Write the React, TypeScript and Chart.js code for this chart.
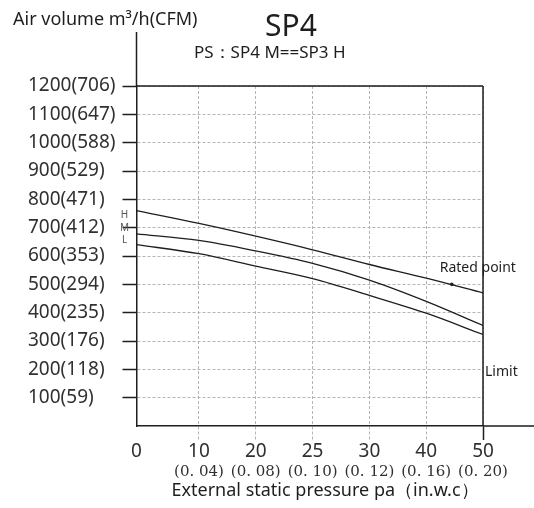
import React, { useEffect, useRef } from "react";
import { Chart, registerables } from "chart.js";

Chart.register(...registerables);

// ---- data ----
const pressureTicks = [0, 10, 20, 25, 30, 40, 50]; // Pa
const inwcLabels = ["", "(0. 04)", "(0. 08)", "(0. 10)", "(0. 12)", "(0. 16)", "(0. 20)"];
const highSpeed = [760, 715, 670, 622, 570, 522, 470];
const midSpeed = [678, 655, 618, 574, 515, 440, 355];
const lowSpeed = [640, 608, 564, 520, 461, 398, 323];
const airVolumeTicks = [100, 200, 300, 400, 500, 600, 700, 800, 900, 1000, 1100, 1200];
const cfmTicks = [59, 118, 176, 235, 294, 353, 412, 471, 529, 588, 647, 706];
const speedNames = ["H", "M", "L"];
const ratedPressure = 44.5;
const ratedAirVolume = 500;
const limitAirVolume = 190;

const X_MIN = -0.1;
const X_MAX = pressureTicks.length - 1;
const pos = (i: number) => (i === 0 ? X_MIN : i);
const pressureToPos = (p: number) => {
  for (let i = 0; i < pressureTicks.length - 1; i++) {
    const a = pressureTicks[i], b = pressureTicks[i + 1];
    if (p >= a && p <= b) return pos(i) + ((p - a) / (b - a)) * (pos(i + 1) - pos(i));
  }
  return X_MAX;
};

const FONT = "'Noto Sans', 'DejaVu Sans', sans-serif";
const SERIF = "'DejaVu Serif', 'Liberation Serif', serif";
const INK = "#1e1e1e";
const LABEL = "#303030";
const GRID = "#b4b4b4";

const toPoints = (arr: number[]) => arr.map((v, i) => ({ x: pos(i), y: v }));

const decorPlugin = {
  id: "decor",
  afterDraw(chart: any) {
    const { ctx, chartArea, scales } = chart;
    const { left, right, top, bottom } = chartArea;
    const xs = scales.x, ys = scales.y;
    ctx.save();
    ctx.strokeStyle = INK;
    ctx.lineWidth = 1.5;
    ctx.setLineDash([]);
    ctx.beginPath();
    ctx.moveTo(left, top);
    ctx.lineTo(right, top);
    ctx.moveTo(right, top);
    ctx.lineTo(right, bottom);
    ctx.moveTo(left, top);
    ctx.lineTo(left, 32);
    ctx.moveTo(right, bottom);
    ctx.lineTo(chart.width, bottom);
    ctx.stroke();

    ctx.fillStyle = INK;
    ctx.textBaseline = "middle";
    ctx.textAlign = "left";
    ctx.font = `18px ${FONT}`;
    ctx.fillText("Air volume m³/h(CFM)", 13, 20);
    ctx.textAlign = "center";
    ctx.font = `30px ${FONT}`;
    ctx.fillText("SP4", 291, 27);
    ctx.textAlign = "left";
    ctx.font = `17px ${FONT}`;
    ctx.fillText("PS：SP4 M==SP3 H", 194, 53);
    ctx.textAlign = "center";
    ctx.font = `18px ${FONT}`;
    ctx.fillText("External static pressure pa（in.w.c）", 325, 491);

    ctx.font = `10px ${FONT}`;
    ctx.fillStyle = "#555";
    const starts = [highSpeed[0], midSpeed[0], lowSpeed[0]];
    const offs = [4, -6, -5];
    speedNames.forEach((n, i) => {
      ctx.fillText(n, left - 12, ys.getPixelForValue(starts[i]) + offs[i]);
    });

    ctx.fillStyle = INK;
    ctx.textAlign = "left";
    ctx.font = `14px ${FONT}`;
    const rx = xs.getPixelForValue(pressureToPos(ratedPressure));
    const ry = ys.getPixelForValue(ratedAirVolume);
    ctx.fillText("Rated point", rx - 12, ry - 16);
    ctx.fillText("Limit", right + 2, ys.getPixelForValue(limitAirVolume));
    ctx.restore();
  },
};

export default function App() {
  const ref = useRef<HTMLCanvasElement | null>(null);

  useEffect(() => {
    if (!ref.current) return;
    const lineDs = (data: number[], label: string) => ({
      type: "line" as const,
      label,
      data: toPoints(data),
      borderColor: INK,
      borderWidth: 1.3,
      pointRadius: 0,
      fill: false,
      cubicInterpolationMode: "monotone" as const,
    });

    const chart = new Chart(ref.current, {
      type: "line",
      data: {
        datasets: [
          lineDs(highSpeed, "H"),
          lineDs(midSpeed, "M"),
          lineDs(lowSpeed, "L"),
          {
            type: "scatter" as const,
            label: "Rated point",
            data: [{ x: pressureToPos(ratedPressure), y: ratedAirVolume }],
            pointRadius: 1.8,
            pointBackgroundColor: INK,
            pointBorderColor: INK,
            borderWidth: 0,
          } as any,
        ],
      },
      options: {
        responsive: false,
        animation: false,
        events: [],
        layout: { padding: { left: 28, top: 86, right: 51, bottom: 0 } },
        plugins: {
          legend: { display: false },
          tooltip: { enabled: false },
          title: { display: false },
        },
        scales: {
          x: {
            type: "linear",
            position: "bottom",
            weight: 0,
            min: X_MIN,
            max: X_MAX,
            afterBuildTicks: (scale: any) => {
              scale.ticks = pressureTicks.map((_, i) => ({ value: pos(i) }));
            },
            afterFit: (scale: any) => {
              scale.height = 37;
            },
            ticks: {
              autoSkip: false,
              maxRotation: 0,
              minRotation: 0,
              padding: 0,
              color: LABEL,
              font: { family: FONT, size: 19 },
              callback: (_v: any, i: number) => String(pressureTicks[i]),
            },
            grid: {
              color: (c: any) => (c.index === 0 ? "rgba(0,0,0,0)" : GRID),
              lineWidth: 1,
              tickLength: 14,
              tickWidth: (c: any) => (c.index === pressureTicks.length - 1 ? 1.5 : 1),
              tickColor: (c: any) =>
                c.index === 0 ? "rgba(0,0,0,0)" : c.index === pressureTicks.length - 1 ? INK : GRID,
              tickBorderDash: (c: any) => (c.index === pressureTicks.length - 1 ? [] : [3, 2]),
            } as any,
            border: { display: true, color: INK, width: 1.5, dash: [3, 2] },
          },
          x2: {
            type: "linear",
            position: "bottom",
            weight: 1,
            min: X_MIN,
            max: X_MAX,
            afterBuildTicks: (scale: any) => {
              scale.ticks = pressureTicks.map((_, i) => ({ value: pos(i) }));
            },
            afterFit: (scale: any) => {
              scale.height = 45;
            },
            ticks: {
              autoSkip: false,
              maxRotation: 0,
              minRotation: 0,
              padding: 0,
              color: LABEL,
              font: { family: SERIF, size: 15 },
              callback: (_v: any, i: number) => inwcLabels[i],
            },
            grid: { display: false, drawTicks: false, drawOnChartArea: false },
            border: { display: false },
          },
          y: {
            type: "linear",
            position: "left",
            min: 0,
            max: 1200,
            afterBuildTicks: (scale: any) => {
              scale.ticks = airVolumeTicks.map((v) => ({ value: v }));
            },
            afterFit: (scale: any) => {
              scale.width = 108.5;
            },
            ticks: {
              autoSkip: false,
              crossAlign: "far",
              padding: 4,
              color: LABEL,
              font: { family: FONT, size: 19 },
              callback: (v: any) => {
                const i = airVolumeTicks.indexOf(Number(v));
                return i < 0 ? "" : `${airVolumeTicks[i]}(${cfmTicks[i]})`;
              },
            },
            grid: {
              color: GRID,
              lineWidth: 1,
              tickLength: 14,
              tickWidth: 1.5,
              tickColor: INK,
              tickBorderDash: [],
            } as any,
            border: { display: true, color: INK, width: 1.5, dash: [3, 2] },
          },
        },
      } as any,
      plugins: [decorPlugin],
    });
    return () => chart.destroy();
  }, []);

  return (
    <div style={{ position: "absolute", left: 0, top: 0, width: 534, height: 508, background: "#fff" }}>
      <canvas ref={ref} width={534} height={508} style={{ width: 534, height: 508, display: "block" }} />
    </div>
  );
}
